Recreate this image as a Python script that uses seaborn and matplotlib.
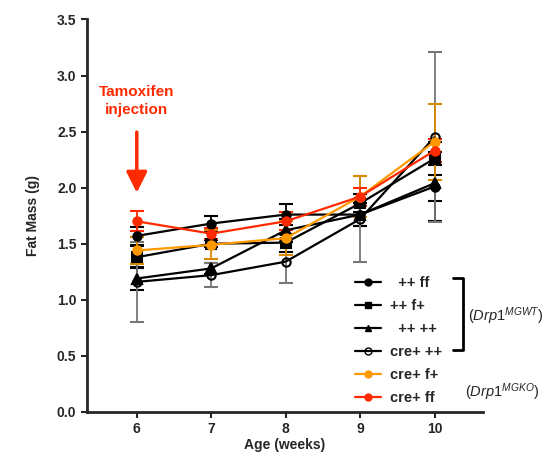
import seaborn as sns
import matplotlib.pyplot as plt
import pandas as pd
from matplotlib.lines import Line2D

weeks = [6, 7, 8, 9, 10]
labels = ["++ ff", "++ f+", "++ ++", "cre+ ++", "cre+ f+", "cre+ ff"]
means = {
    "++ ff":   [1.57, 1.68, 1.76, 1.76, 2.01],
    "++ f+":   [1.38, 1.50, 1.51, 1.86, 2.26],
    "++ ++":   [1.19, 1.28, 1.62, 1.76, 2.04],
    "cre+ ++": [1.16, 1.22, 1.34, 1.72, 2.45],
    "cre+ f+": [1.44, 1.49, 1.55, 1.92, 2.41],
    "cre+ ff": [1.70, 1.59, 1.70, 1.92, 2.33],
}
errs = {
    "++ ff":   [0.08, 0.07, 0.09, 0.10, 0.31],
    "++ f+":   [0.10, 0.03, 0.08, 0.08, 0.15],
    "++ ++":   [0.10, 0.05, 0.10, 0.10, 0.16],
    "cre+ ++": [0.36, 0.11, 0.19, 0.38, 0.76],
    "cre+ f+": [0.12, 0.13, 0.15, 0.18, 0.34],
    "cre+ ff": [0.09, 0.05, 0.08, 0.08, 0.10],
}
colors = ["black", "black", "black", "black", "#FF9900", "#FF2A00"]
err_colors = ["black", "black", "black", "#777777", "#D98A00", "#FF2A00"]
markers = ["o", "s", "^", "o", "o", "o"]
legend_text = ["  ++ ff", "++ f+", "  ++ ++", "cre+ ++", "cre+ f+", "cre+ ff"]

rows = []
for lab in labels:
    for w, m, e in zip(weeks, means[lab], errs[lab]):
        rows.append({"week": w, "mass": m, "err": e, "group": lab})
df = pd.DataFrame(rows)

sns.set_style("ticks")
plt.rcParams["font.family"] = ["Liberation Sans", "DejaVu Sans"]
plt.rcParams["mathtext.fontset"] = "custom"
plt.rcParams["mathtext.rm"] = "Liberation Sans"
plt.rcParams["mathtext.it"] = "Liberation Sans:italic"

fig = plt.figure(figsize=(5.5, 4.57), dpi=100)
ax = fig.add_axes([0.158, 0.0985, 0.72, 0.859])

handles = []
for lab, c, ec, mk in zip(labels, colors, err_colors, markers):
    d = df[df["group"] == lab]
    ax.errorbar(d["week"], d["mass"], yerr=d["err"], fmt="none", ecolor=ec,
                elinewidth=1.3, capsize=5, capthick=1.5, zorder=2)
    mfc = "none" if lab == "cre+ ++" else c
    ms = 6 if mk == "o" else 6.5
    sns.lineplot(data=d, x="week", y="mass", color=c, marker=mk, markersize=ms,
                 markerfacecolor=mfc, markeredgecolor=c, markeredgewidth=1.5,
                 linewidth=1.6, ax=ax, zorder=3, legend=False)
    handles.append(Line2D([], [], color=c, marker=mk, markersize=5,
                          markerfacecolor=mfc, markeredgecolor=c, linewidth=1.6))

ax.set_xlim(5.33, 10.65)
ax.set_ylim(0, 3.5)
ax.set_xticks(weeks)
ax.set_yticks([0, 0.5, 1.0, 1.5, 2.0, 2.5, 3.0, 3.5])
ax.set_yticklabels(["0.0", "0.5", "1.0", "1.5", "2.0", "2.5", "3.0", "3.5"])
for t in ax.get_xticklabels() + ax.get_yticklabels():
    t.set_fontweight("bold")
    t.set_fontsize(10)
ax.set_xlabel("Age (weeks)", fontsize=10, fontweight="bold", labelpad=1)
ax.set_ylabel("Fat Mass (g)", fontsize=10, fontweight="bold", labelpad=12)
sns.despine(ax=ax)
for s in ["left", "bottom"]:
    ax.spines[s].set_linewidth(2)
ax.tick_params(width=1.5, length=4)

leg = ax.legend(handles, legend_text, loc="upper left",
                bbox_to_anchor=(0.645, 0.38), frameon=False,
                prop={"weight": "bold", "size": 10.5},
                handlelength=1.75, handletextpad=0.6, labelspacing=0.62)

# Tamoxifen annotation
ax.annotate("", xy=(6, 1.93), xytext=(6, 2.52),
            arrowprops=dict(arrowstyle="-|>,head_width=0.35,head_length=0.7",
                            color="#FF2A00", lw=2.5, mutation_scale=18))
ax.text(6, 2.77, "Tamoxifen\ninjection", color="#FF2A00", fontsize=11,
        fontweight="bold", ha="center", va="center", linespacing=1.35)

# bracket and genotype labels
fig.add_artist(Line2D([453 / 550, 463 / 550, 463 / 550, 453 / 550],
                      [1 - 278 / 457, 1 - 278 / 457, 1 - 350 / 457, 1 - 350 / 457],
                      color="black", lw=2))
fig.text(468 / 550, 1 - 316 / 457, r"$\it{(Drp1^{MGWT})}$", fontsize=10.5,
         va="center", ha="left")
fig.text(465 / 550, 1 - 392 / 457, r"$\it{(Drp1^{MGKO})}$", fontsize=10.5,
         va="center", ha="left")

fig.savefig("out.png", dpi=100)
